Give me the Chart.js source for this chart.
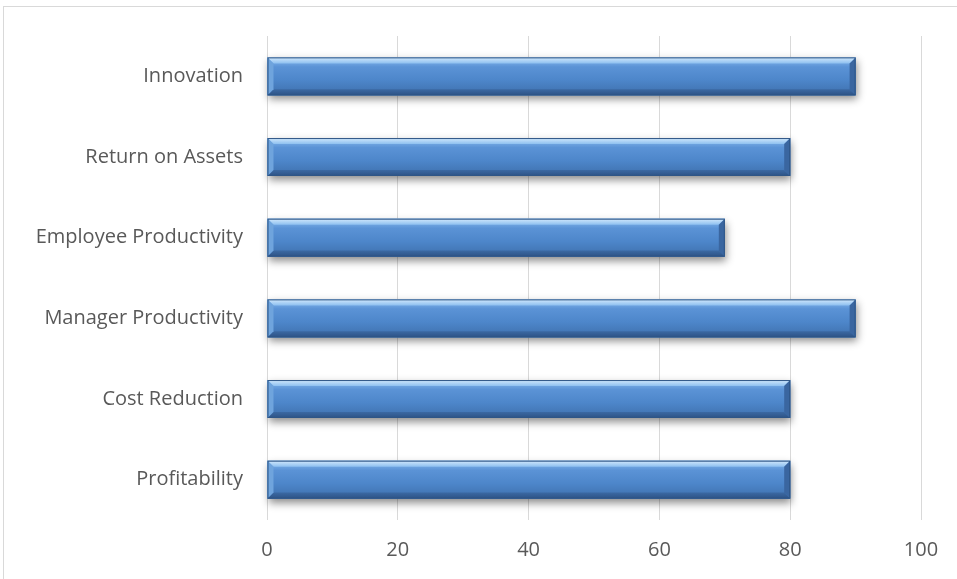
<!DOCTYPE html>
<html>
<head>
<meta charset="utf-8">
<script src="https://cdn.jsdelivr.net/npm/chart.js@4"></script>
<style>
  html, body { margin: 0; padding: 0; background: #fff; overflow: hidden; }
  #wrap { position: relative; width: 957px; height: 579px; }
  #frame { position: absolute; left: 3px; top: 6px; width: 960px; height: 580px; border: 1px solid #d9d9d9; box-sizing: border-box; }
  canvas { position: absolute; left: 0; top: 0; }
</style>
</head>
<body>
<div id="wrap">
  <div id="frame"></div>
  <canvas id="chart" width="957" height="579"></canvas>
</div>
<script>
// данные
const categories = ['Innovation', 'Return on Assets', 'Employee Productivity', 'Manager Productivity', 'Cost Reduction', 'Profitability'];
const scores = [90, 80, 70, 90, 80, 80];
const xTicks = [0, 20, 40, 60, 80, 100];

// объёмный вид столбцов (тень + фаска)
const bevelPlugin = {
    id: 'bevel',
    beforeDatasetsDraw(chart) {
        const ctx = chart.ctx;
        chart.getDatasetMeta(0).data.forEach(bar => {
            const top = bar.y - bar.height / 2;
            ctx.save();
            ctx.shadowColor = 'rgba(0,0,0,0.45)';
            ctx.shadowBlur = 8;
            ctx.shadowOffsetX = 1;
            ctx.shadowOffsetY = 4;
            ctx.fillStyle = '#3f6fa8';
            ctx.fillRect(bar.base, top, bar.x - bar.base, bar.height);
            ctx.restore();
        });
    },
    afterDatasetsDraw(chart) {
        const ctx = chart.ctx;
        chart.getDatasetMeta(0).data.forEach(bar => {
            const l = bar.base, r = bar.x;
            const t = bar.y - bar.height / 2, b = bar.y + bar.height / 2;
            const e = 6;
            ctx.save();
            let g = ctx.createLinearGradient(0, t, 0, b);
            g.addColorStop(0, '#8cbcef');
            g.addColorStop(0.25, '#5b93d6');
            g.addColorStop(0.6, '#4d86ca');
            g.addColorStop(1, '#3e6fac');
            ctx.fillStyle = g;
            ctx.fillRect(l, t, r - l, b - t);

            // верхняя фаска
            let gt = ctx.createLinearGradient(0, t, 0, t + e);
            gt.addColorStop(0, '#d3e9fc');
            gt.addColorStop(1, '#8ec0f0');
            ctx.fillStyle = gt;
            ctx.beginPath();
            ctx.moveTo(l, t); ctx.lineTo(r, t); ctx.lineTo(r - e, t + e); ctx.lineTo(l + e, t + e);
            ctx.closePath(); ctx.fill();

            // нижняя фаска
            let gb = ctx.createLinearGradient(0, b - e, 0, b);
            gb.addColorStop(0, '#3b69a3');
            gb.addColorStop(1, '#2d5285');
            ctx.fillStyle = gb;
            ctx.beginPath();
            ctx.moveTo(l, b); ctx.lineTo(r, b); ctx.lineTo(r - e, b - e); ctx.lineTo(l + e, b - e);
            ctx.closePath(); ctx.fill();

            // боковые фаски
            ctx.fillStyle = '#6fa4dd';
            ctx.beginPath();
            ctx.moveTo(l, t); ctx.lineTo(l + e, t + e); ctx.lineTo(l + e, b - e); ctx.lineTo(l, b);
            ctx.closePath(); ctx.fill();
            ctx.fillStyle = '#3a66a0';
            ctx.beginPath();
            ctx.moveTo(r, t); ctx.lineTo(r - e, t + e); ctx.lineTo(r - e, b - e); ctx.lineTo(r, b);
            ctx.closePath(); ctx.fill();

            ctx.strokeStyle = '#2f5686';
            ctx.lineWidth = 1;
            ctx.strokeRect(l + 0.5, t + 0.5, r - l - 1, b - t - 1);
            ctx.restore();
        });
    }
};

new Chart(document.getElementById('chart'), {
    type: 'bar',
    data: {
        labels: categories,
        datasets: [{
            label: 'Score',
            data: scores,
            backgroundColor: '#4f81bd',
            borderWidth: 0,
            barPercentage: 0.47,
            categoryPercentage: 1.0
        }]
    },
    options: {
        indexAxis: 'y',
        responsive: false,
        animation: false,
        layout: { padding: { top: 35, right: 36, bottom: 0, left: 0 } },
        plugins: {
            legend: { display: false },
            tooltip: { enabled: false }
        },
        scales: {
            x: {
                min: 0,
                max: 100,
                afterBuildTicks: scale => { scale.ticks = xTicks.map(v => ({ value: v })); },
                afterFit: scale => { scale.height = 59; },
                grid: { color: '#d9d9d9', drawTicks: false, lineWidth: 1 },
                border: { display: false },
                ticks: { color: '#595959', padding: 18, font: { family: 'Open Sans', size: 20 } }
            },
            y: {
                afterFit: scale => { scale.width = 267; },
                grid: { display: false, drawTicks: false },
                border: { display: false },
                ticks: { color: '#595959', padding: 24, font: { family: 'Open Sans', size: 20 } }
            }
        }
    },
    plugins: [bevelPlugin]
});
</script>
</body>
</html>
